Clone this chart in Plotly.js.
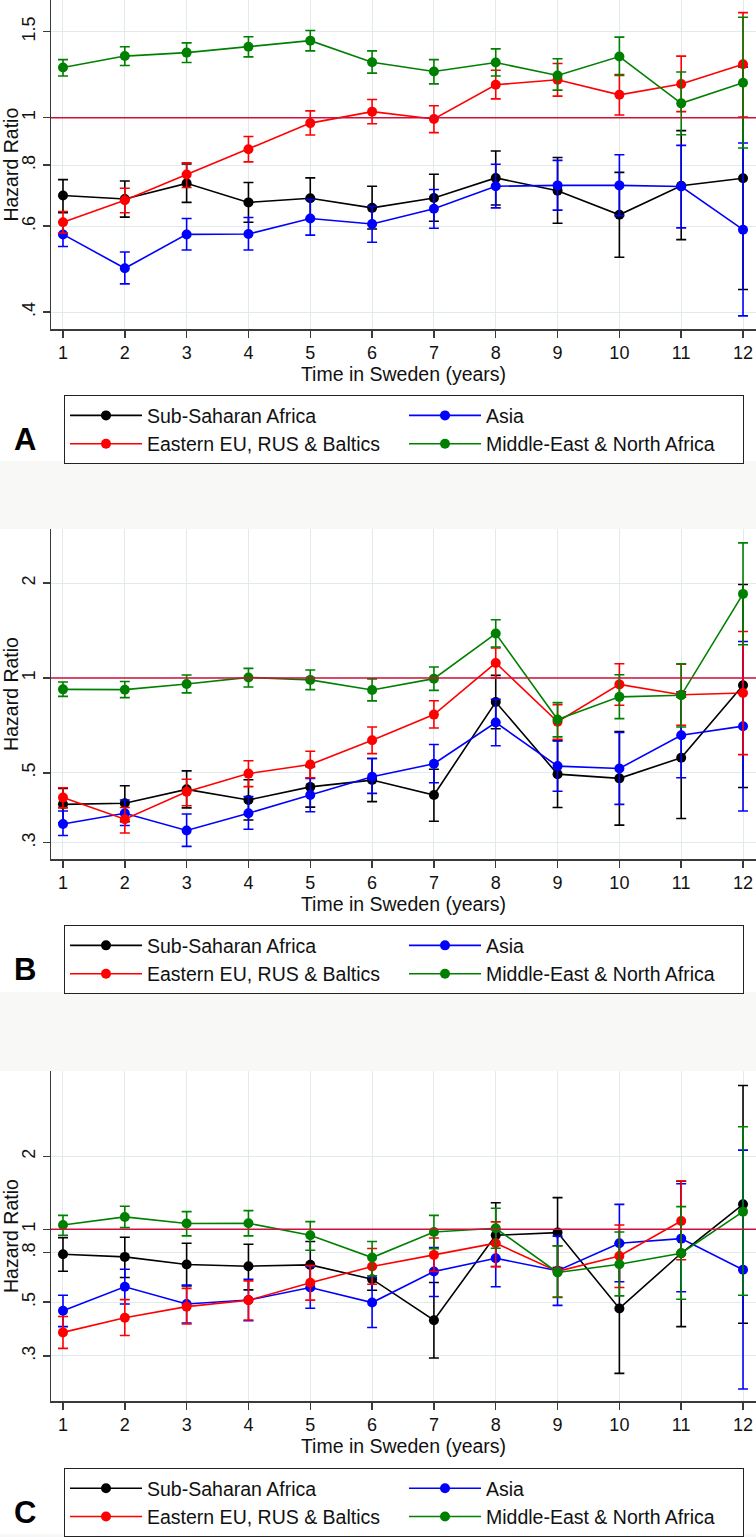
<!DOCTYPE html>
<html><head><meta charset="utf-8">
<script src="https://cdn.plot.ly/plotly-3.0.1.min.js"></script>
<style>html,body{margin:0;padding:0;background:#f8f8f6;}#chart{width:756px;height:1537px;}</style>
</head><body><div id="chart"></div>
<script>
const years = [1,2,3,4,5,6,7,8,9,10,11,12];
const groupNames = ['Sub-Saharan Africa','Asia','Eastern EU, RUS & Baltics','Middle-East & North Africa'];
const panelLetters = ['A','B','C'];

// Panel A
const A_ssa_hr  = [0.693,0.682,0.734,0.671,0.684,0.654,0.685,0.753,0.709,0.633,0.726,0.752];
const A_ssa_lo  = [0.639,0.626,0.671,0.611,0.622,0.592,0.614,0.663,0.608,0.518,0.563,0.445];
const A_ssa_hi  = [0.747,0.742,0.804,0.737,0.753,0.724,0.766,0.855,0.829,0.773,0.941,1.270];
const A_asia_hr = [0.577,0.492,0.577,0.578,0.622,0.606,0.651,0.724,0.727,0.727,0.723,0.590];
const A_asia_lo = [0.545,0.457,0.536,0.536,0.575,0.556,0.594,0.654,0.647,0.630,0.595,0.393];
const A_asia_hi = [0.611,0.531,0.622,0.625,0.680,0.659,0.713,0.803,0.818,0.840,0.878,0.888];
const A_eeu_hr  = [0.611,0.678,0.765,0.862,0.975,1.029,0.994,1.168,1.196,1.114,1.172,1.287];
const A_eeu_lo  = [0.581,0.639,0.720,0.812,0.922,0.972,0.932,1.093,1.107,1.013,1.029,1.003];
const A_eeu_hi  = [0.643,0.717,0.809,0.915,1.033,1.090,1.058,1.251,1.291,1.226,1.337,1.641];
const A_mena_hr = [1.267,1.337,1.359,1.397,1.438,1.299,1.243,1.297,1.220,1.334,1.070,1.179];
const A_mena_lo = [1.217,1.279,1.297,1.332,1.370,1.234,1.173,1.217,1.139,1.220,0.923,0.867];
const A_mena_hi = [1.315,1.397,1.423,1.464,1.508,1.370,1.315,1.383,1.320,1.462,1.240,1.606];

// Panel B
const B_ssa_hr  = [0.397,0.400,0.443,0.410,0.451,0.474,0.425,0.839,0.495,0.480,0.558,0.948];
const B_ssa_lo  = [0.347,0.350,0.387,0.354,0.389,0.405,0.351,0.690,0.388,0.341,0.358,0.449];
const B_ssa_hi  = [0.446,0.455,0.507,0.475,0.523,0.555,0.513,1.019,0.631,0.676,0.870,1.980];
const B_asia_hr = [0.344,0.372,0.328,0.372,0.425,0.486,0.534,0.722,0.525,0.516,0.658,0.703];
const B_asia_lo = [0.316,0.340,0.292,0.331,0.376,0.430,0.465,0.609,0.437,0.397,0.482,0.378];
const B_asia_hi = [0.378,0.410,0.370,0.420,0.480,0.555,0.615,0.856,0.634,0.671,0.903,1.306];
const B_eeu_hr  = [0.417,0.356,0.435,0.497,0.531,0.634,0.765,1.116,0.726,0.954,0.885,0.896];
const B_eeu_lo  = [0.387,0.322,0.393,0.452,0.482,0.575,0.694,1.000,0.639,0.819,0.708,0.571];
const B_eeu_hi  = [0.448,0.388,0.477,0.546,0.585,0.699,0.847,1.245,0.823,1.110,1.106,1.405];
const B_mena_hr = [0.920,0.918,0.957,1.004,0.986,0.916,0.995,1.384,0.738,0.871,0.881,1.849];
const B_mena_lo = [0.874,0.866,0.897,0.936,0.918,0.846,0.913,1.254,0.650,0.743,0.699,1.275];
const B_mena_hi = [0.971,0.975,1.022,1.073,1.060,0.993,1.084,1.530,0.835,1.024,1.110,2.684];

// Panel C
const C_ssa_hr  = [0.789,0.769,0.715,0.704,0.713,0.622,0.421,0.945,0.969,0.471,0.796,1.268];
const C_ssa_lo  = [0.671,0.632,0.584,0.562,0.571,0.560,0.294,0.702,0.695,0.254,0.396,0.409];
const C_ssa_hi  = [0.924,0.927,0.876,0.867,0.890,0.700,0.603,1.288,1.351,0.873,1.580,3.925];
const C_asia_hr = [0.461,0.579,0.491,0.510,0.575,0.498,0.669,0.759,0.674,0.876,0.915,0.680];
const C_asia_lo = [0.396,0.491,0.410,0.419,0.472,0.393,0.528,0.579,0.485,0.607,0.552,0.219];
const C_asia_hi = [0.534,0.684,0.588,0.622,0.700,0.632,0.840,0.995,0.937,1.268,1.543,2.124];
const C_eeu_hr  = [0.375,0.431,0.479,0.509,0.601,0.702,0.784,0.876,0.670,0.776,1.082,null];
const C_eeu_lo  = [0.322,0.364,0.406,0.422,0.510,0.593,0.670,0.700,0.525,0.575,0.748,null];
const C_eeu_hi  = [0.436,0.512,0.570,0.612,0.708,0.833,0.920,1.073,0.855,1.042,1.583,null];
const C_mena_hr = [1.042,1.125,1.056,1.059,0.945,0.764,0.975,1.010,0.663,0.717,0.796,1.183];
const C_mena_lo = [0.945,1.016,0.939,0.939,0.819,0.642,0.832,0.835,0.523,0.531,0.514,0.534];
const C_mena_hi = [1.142,1.246,1.183,1.194,1.076,0.890,1.142,1.221,0.854,0.975,1.241,2.651];

const A_ytickvals = [0.4,0.6,0.8,1,1.5];  const A_yticktext = ['.4','.6','.8','1','1.5'];
const B_ytickvals = [0.3,0.5,1,2];        const B_yticktext = ['.3','.5','1','2'];
const C_ytickvals = [0.3,0.5,0.8,1,2];    const C_yticktext = ['.3','.5','.8','1','2'];

const panels = [
  {series:[[A_ssa_hr,A_ssa_lo,A_ssa_hi],[A_asia_hr,A_asia_lo,A_asia_hi],[A_eeu_hr,A_eeu_lo,A_eeu_hi],[A_mena_hr,A_mena_lo,A_mena_hi]],
   tv:A_ytickvals, tt:A_yticktext},
  {series:[[B_ssa_hr,B_ssa_lo,B_ssa_hi],[B_asia_hr,B_asia_lo,B_asia_hi],[B_eeu_hr,B_eeu_lo,B_eeu_hi],[B_mena_hr,B_mena_lo,B_mena_hi]],
   tv:B_ytickvals, tt:B_yticktext},
  {series:[[C_ssa_hr,C_ssa_lo,C_ssa_hi],[C_asia_hr,C_asia_lo,C_asia_hi],[C_eeu_hr,C_eeu_lo,C_eeu_hi],[C_mena_hr,C_mena_lo,C_mena_hi]],
   tv:C_ytickvals, tt:C_yticktext}
];

// ---- layout geometry (pixels) ----
const W = 756, H = 1537;
const FONT = 'Liberation Sans, Arial, Helvetica, sans-serif';
const colors = ['#000000','#0000ff','#ff0000','#008000'];
const plotLeft = 51;
const geo = [
  {top:0,    bottom:330,   yr:[-0.4331,0.2409], legTop:396,  panelTop:0,    panelBottom:462},
  {top:530,  bottom:860.7, yr:[-0.5748,0.4730], legTop:927,  panelTop:530,  panelBottom:994},
  {top:1073, bottom:1404,  yr:[-0.7105,0.6544], legTop:1471, panelTop:1073, panelBottom:1537}
];
const py = p => 1 - p / H;

const traces = [];
const layout = {
  width: W, height: H,
  margin: {l:0, r:0, t:0, b:0},
  paper_bgcolor: '#f8f8f6',
  plot_bgcolor: '#ffffff',
  font: {family: FONT, color: '#111'},
  showlegend: true,
  shapes: [], annotations: []
};

panels.forEach((p, pi) => {
  const g = geo[pi];
  const sfx = pi === 0 ? '' : String(pi + 1);
  const xa = 'x' + sfx, ya = 'y' + sfx;
  const legId = 'legend' + sfx;
  p.series.forEach((s, gi) => {
    const hr = s[0], lo = s[1], hi = s[2];
    traces.push({
      type: 'scatter', mode: 'lines+markers',
      x: years, y: hr, name: groupNames[gi],
      xaxis: xa, yaxis: ya, legend: legId,
      line: {color: colors[gi], width: 1.6},
      marker: {color: colors[gi], size: 10},
      error_y: {type: 'data', symmetric: false,
        array: hr.map((v, i) => v == null ? null : hi[i] - v),
        arrayminus: hr.map((v, i) => v == null ? null : v - lo[i]),
        color: colors[gi], thickness: 1.6, width: 5},
      cliponaxis: false,
      hoverinfo: 'x+y+name'
    });
  });
  layout['xaxis' + sfx] = {
    domain: [plotLeft / W, 1], anchor: ya, range: [0.806, 12.21],
    tickvals: years, ticktext: years.map(String),
    showgrid: true, gridcolor: '#e2eaee', gridwidth: 1,
    showline: true, linecolor: '#3a3a3a', linewidth: 1.5,
    ticks: 'outside', ticklen: 7, tickwidth: 1.5, tickcolor: '#3a3a3a',
    tickfont: {size: 18, color: '#111'}, zeroline: false,
    title: {text: 'Time in Sweden (years)', font: {size: 19.5, color: '#111'}, standoff: 2},
    fixedrange: true
  };
  layout['yaxis' + sfx] = {
    domain: [py(g.bottom), py(g.top)], anchor: xa, type: 'log', range: g.yr,
    tickvals: p.tv, ticktext: p.tt, tickangle: -90,
    showgrid: true, gridcolor: '#e2eaee', gridwidth: 1,
    showline: true, linecolor: '#3a3a3a', linewidth: 1.5,
    ticks: 'outside', ticklen: 7, tickwidth: 1.5, tickcolor: '#3a3a3a',
    tickfont: {size: 18, color: '#111'}, zeroline: false,
    title: {text: 'Hazard Ratio', font: {size: 19.5, color: '#111'}, standoff: 4},
    fixedrange: true
  };
  layout[legId] = {
    orientation: 'h', x: 64 / W, xanchor: 'left', y: py(g.legTop), yanchor: 'top',
    bgcolor: '#ffffff', bordercolor: '#222', borderwidth: 1,
    font: {size: 19.5, color: '#111', family: FONT},
    itemwidth: 72, entrywidth: 252, traceorder: 'normal'
  };
  // white panel background
  layout.shapes.push({type: 'rect', xref: 'paper', yref: 'paper', layer: 'below',
    x0: 0, x1: 1, y0: py(g.panelBottom), y1: py(g.panelTop),
    fillcolor: '#ffffff', line: {width: 0}});
  // reference line at HR = 1
  layout.shapes.push({type: 'line', xref: xa + ' domain', yref: ya,
    x0: 0, x1: 1, y0: 1, y1: 1, line: {color: '#d0103a', width: 1.6}, layer: 'above'});
  layout.annotations.push({xref: 'paper', yref: 'paper', x: 25 / W, y: py(g.legTop + 44),
    xanchor: 'center', yanchor: 'middle', showarrow: false,
    text: '<b>' + panelLetters[pi] + '</b>', font: {size: 31, color: '#000', family: FONT}});
});

Plotly.newPlot('chart', traces, layout, {displayModeBar: false, staticPlot: true});
</script>
</body></html>
